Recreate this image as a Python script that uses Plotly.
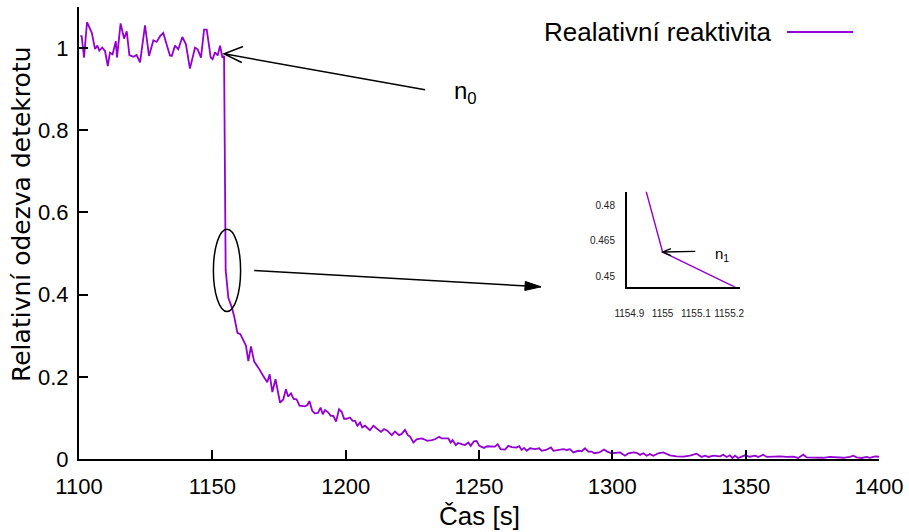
import plotly.graph_objects as go

# Detector response after the reactivity step (time in s, relative response)
time_s = [
    1100.5, 1101.0, 1101.9, 1103.0, 1104.8, 1106.0, 1106.9, 1107.6, 1108.7, 1109.75,
    1110.8, 1111.6, 1112.6, 1113.8, 1114.25, 1115.6, 1116.9, 1117.9, 1118.9, 1120.4,
    1121.6, 1122.9, 1124.75, 1126.25, 1127.9, 1129.1, 1130.4, 1131.6, 1134.1, 1134.8,
    1136.0, 1137.25, 1138.75, 1140.1, 1141.6, 1143.5, 1144.5, 1145.75, 1146.9, 1147.9,
    1149.4, 1150.1, 1151.0, 1152.0, 1152.9, 1153.75, 1154.4,
    1154.9, 1155.0, 1156.0, 1157.3, 1158.2, 1159.4, 1160.5, 1161.6, 1162.6, 1163.5,
    1164.5, 1165.7, 1167.2, 1169.1, 1170.6, 1171.5, 1172.5, 1173.7, 1175.4, 1176.6,
    1177.6, 1178.4, 1179.5, 1180.5, 1181.6, 1182.7, 1184.75, 1185.7, 1186.4, 1187.5,
    1188.5, 1189.6, 1190.6, 1191.4, 1192.25, 1193.5, 1194.4, 1195.4, 1196.4, 1197.5,
    1198.5, 1199.4, 1200.4, 1201.6, 1202.6, 1203.5, 1204.4, 1205.4, 1206.2, 1207.25,
    1209.1, 1210.4, 1211.6, 1213.25, 1214.4, 1215.6, 1217.3, 1218.5, 1220.0, 1221.0,
    1222.25, 1223.3, 1224.1, 1225.4, 1226.6, 1228.5, 1229.4, 1230.6, 1232.3, 1233.5,
    1235.1, 1236.0, 1237.5, 1238.5, 1239.4, 1240.1, 1241.3, 1242.2, 1243.5, 1244.75,
    1246.0, 1246.9, 1248.1, 1249.1, 1250.1, 1251.9, 1253.1, 1254.8, 1256.0, 1257.0,
    1258.1, 1259.75, 1261.0, 1262.3, 1264.1, 1265.1, 1266.0, 1266.9, 1267.9, 1269.1,
    1271.0, 1272.6, 1273.5, 1275.1, 1277.0, 1277.9, 1279.7, 1281.6, 1282.9, 1284.1,
    1285.4, 1287.2, 1288.5, 1289.75, 1291.0, 1292.25, 1293.2, 1295.1, 1296.9, 1298.1,
    1299.75, 1301.6, 1302.9, 1304.75, 1306.0, 1307.9, 1309.1, 1310.4, 1311.6, 1312.9,
    1314.1, 1315.4, 1317.2, 1319.1, 1321.6, 1324.1, 1326.6, 1329.1, 1331.6, 1333.5,
    1334.75, 1336.0, 1337.9, 1340.4, 1341.6, 1342.9, 1344.1, 1345.0, 1346.0, 1347.2,
    1348.5, 1349.75, 1351.6, 1353.5, 1354.7, 1356.6, 1357.9, 1360.4, 1362.9, 1365.4,
    1367.9, 1369.7, 1371.6, 1372.9, 1375.4, 1379.1, 1381.6, 1384.1, 1386.6, 1389.1,
    1390.4, 1391.6, 1393.5, 1395.4, 1396.6, 1398.5, 1400.0,
]
response = [
    1.030, 1.029, 0.977, 1.063, 1.037, 0.998, 1.006, 0.994, 1.001, 0.993,
    0.956, 0.989, 0.985, 1.017, 0.977, 1.060, 1.023, 1.041, 0.983, 0.979,
    0.983, 0.965, 1.055, 0.981, 1.019, 1.015, 1.029, 1.037, 0.982, 0.981,
    1.006, 0.997, 1.027, 1.009, 0.950, 1.001, 0.997, 0.977, 1.045, 1.045,
    0.977, 0.973, 0.990, 0.982, 1.006, 0.977, 0.981,
    0.512, 0.4602, 0.392, 0.369, 0.347, 0.307, 0.304, 0.290, 0.276, 0.238,
    0.274, 0.237, 0.223, 0.202, 0.187, 0.206, 0.163, 0.194, 0.137, 0.145,
    0.170, 0.152, 0.160, 0.146, 0.145, 0.130, 0.128, 0.132, 0.141, 0.117,
    0.111, 0.112, 0.125, 0.109, 0.119, 0.113, 0.105, 0.105, 0.091, 0.121,
    0.115, 0.098, 0.098, 0.101, 0.093, 0.093, 0.081, 0.089, 0.077, 0.081,
    0.070, 0.081, 0.074, 0.066, 0.073, 0.069, 0.058, 0.067, 0.058, 0.061,
    0.071, 0.058, 0.055, 0.040, 0.048, 0.050, 0.048, 0.044, 0.046, 0.048,
    0.054, 0.050, 0.050, 0.050, 0.040, 0.046, 0.034, 0.039, 0.036, 0.034,
    0.040, 0.032, 0.043, 0.044, 0.032, 0.027, 0.031, 0.030, 0.030, 0.036,
    0.024, 0.023, 0.032, 0.029, 0.028, 0.031, 0.022, 0.027, 0.020, 0.026,
    0.024, 0.026, 0.020, 0.022, 0.028, 0.020, 0.022, 0.024, 0.022, 0.024,
    0.016, 0.020, 0.019, 0.026, 0.018, 0.018, 0.014, 0.016, 0.023, 0.018,
    0.014, 0.016, 0.016, 0.008, 0.014, 0.016, 0.015, 0.010, 0.014, 0.008,
    0.012, 0.008, 0.014, 0.016, 0.009, 0.0065, 0.006, 0.008, 0.013, 0.005,
    0.008, 0.005, 0.008, 0.0065, 0.0105, 0.005, 0.009, 0.0025, 0.008, 0.0025,
    0.0065, 0.009, 0.0055, 0.008, 0.005, 0.0105, 0.005, 0.0055, 0.0065, 0.005,
    0.0055, 0.0025, 0.0105, 0.004, 0.004, 0.003, 0.005, 0.004, 0.003, 0.005,
    0.008, 0.004, 0.0025, 0.005, 0.003, 0.0065, 0.0055,
]

x_ticks = [1100, 1150, 1200, 1250, 1300, 1350, 1400]
y_ticks = [0, 0.2, 0.4, 0.6, 0.8, 1]
y_tick_text = ["0", "0.2", "0.4", "0.6", "0.8", "1"]

inset_x_ticks = [1154.9, 1155.0, 1155.1, 1155.2]
inset_x_text = ["1154.9", "1155", "1155.1", "1155.2"]
inset_y_ticks = [0.45, 0.465, 0.48]
inset_y_text = ["0.45", "0.465", "0.48"]

# marked points: n0 before the drop, n1 right after it
n0_point = (1154.4, 0.986)
n1_point = (1155.0, 0.4602)
# ellipse around the prompt drop and the arrow leading to the zoomed view
ellipse_box = (1150.4, 1160.6, 0.359, 0.559)
zoom_arrow = (1165.7, 0.459, 1273.25, 0.419)

LINE_COLOR = "#9400d3"
TEXT_FONT = "Liberation Sans, Arial, sans-serif"
LABEL_FONT = "DejaVu Sans, Verdana, sans-serif"

fig = go.Figure()

fig.add_trace(go.Scatter(
    x=time_s, y=response, mode="lines",
    line=dict(color=LINE_COLOR, width=1.8),
    showlegend=False, hoverinfo="skip",
))
fig.add_trace(go.Scatter(
    x=time_s, y=response, mode="lines",
    line=dict(color=LINE_COLOR, width=1.4),
    xaxis="x2", yaxis="y2",
    showlegend=False, hoverinfo="skip",
))

axis_common = dict(
    showgrid=False, zeroline=False, showline=True, automargin=False,
    linecolor="black", linewidth=2, mirror=False,
)

fig.update_layout(
    width=909, height=532, autosize=False,
    margin=dict(l=79, r=30, t=7, b=73),
    paper_bgcolor="white", plot_bgcolor="white",
    showlegend=False,
    xaxis=dict(
        range=[1100, 1400], tickvals=x_ticks,
        ticks="inside", ticklen=9, tickwidth=1.5, tickcolor="black",
        tickfont=dict(family=TEXT_FONT, size=22, color="black"),
        ticklabelstandoff=7,
        **axis_common,
    ),
    yaxis=dict(
        range=[0, 1.1], tickvals=y_ticks, ticktext=y_tick_text,
        ticks="inside", ticklen=9, tickwidth=1.5, tickcolor="black",
        tickfont=dict(family=TEXT_FONT, size=22, color="black"),
        ticklabelstandoff=4,
        **axis_common,
    ),
    xaxis2=dict(
        domain=[0.685, 0.826], anchor="y2",
        range=[1154.893, 1155.232], tickvals=inset_x_ticks, ticktext=inset_x_text,
        ticks="", tickfont=dict(family=TEXT_FONT, size=10, color="#222"),
        ticklabelstandoff=16,
        **axis_common,
    ),
    yaxis2=dict(
        domain=[0.381, 0.591], anchor="x2",
        range=[0.4455, 0.4856], tickvals=inset_y_ticks, ticktext=inset_y_text,
        ticks="", tickfont=dict(family=TEXT_FONT, size=10, color="#222"),
        ticklabelstandoff=8,
        **axis_common,
    ),
)

shapes = []
# arrow to n0
shapes.append(dict(
    type="path", xref="x", yref="y", xsizemode="pixel", ysizemode="pixel",
    xanchor=n0_point[0], yanchor=n0_point[1],
    path="M0,0 L201,-36 M19,7.3 L0,0 L17.7,-8.7",
    line=dict(color="black", width=1.5),
))
# ellipse around the drop
shapes.append(dict(
    type="circle", xref="x", yref="y",
    x0=ellipse_box[0], x1=ellipse_box[1], y0=ellipse_box[2], y1=ellipse_box[3],
    line=dict(color="black", width=1.5),
))
# arrow from the ellipse towards the zoomed view
shapes.append(dict(
    type="line", xref="x", yref="y",
    x0=zoom_arrow[0], y0=zoom_arrow[1], x1=zoom_arrow[2], y1=zoom_arrow[3],
    line=dict(color="black", width=1.5),
))
shapes.append(dict(
    type="path", xref="x", yref="y", xsizemode="pixel", ysizemode="pixel",
    xanchor=zoom_arrow[2], yanchor=zoom_arrow[3],
    path="M0,0 L-15.7,5.4 L-16.2,-3.6 Z",
    fillcolor="black", line=dict(color="black", width=1),
))
# arrow to n1 in the zoomed view
shapes.append(dict(
    type="path", xref="x2", yref="y2", xsizemode="pixel", ysizemode="pixel",
    xanchor=n1_point[0], yanchor=n1_point[1],
    path="M0,0 L32.7,0.6 M8.3,3.3 L0,0 L8.3,-3.7",
    line=dict(color="black", width=1.3),
))
# legend sample line
shapes.append(dict(
    type="line", xref="paper", yref="paper",
    x0=0.885, x1=0.9675, y0=0.9447, y1=0.9447,
    line=dict(color=LINE_COLOR, width=1.8),
))
fig.update_layout(shapes=shapes)

annotations = [
    dict(text="Realativní reaktivita", x=0.867, y=0.9447, xref="paper", yref="paper",
         xanchor="right", yanchor="middle", showarrow=False,
         font=dict(family=TEXT_FONT, size=26, color="black")),
    dict(text="n<sub>0</sub>", x=0.466, y=0.81, xref="paper", yref="paper",
         xanchor="left", yanchor="middle", showarrow=False,
         font=dict(family=TEXT_FONT, size=24, color="black")),
    dict(text="n<sub>1</sub>", x=0.7925, y=0.4535, xref="paper", yref="paper",
         xanchor="left", yanchor="middle", showarrow=False,
         font=dict(family=TEXT_FONT, size=15, color="black")),
    dict(text="Čas [s]", x=0.5, y=-0.126, xref="paper", yref="paper",
         xanchor="center", yanchor="middle", showarrow=False,
         font=dict(family=TEXT_FONT, size=26, color="black")),
    dict(text="Relativní odezva detekrotu", x=-0.0725, y=0.542, xref="paper", yref="paper",
         xanchor="center", yanchor="middle", textangle=-90, showarrow=False,
         font=dict(family=LABEL_FONT, size=25, color="black")),
]
fig.update_layout(annotations=annotations)

fig.write_html("out.html")
